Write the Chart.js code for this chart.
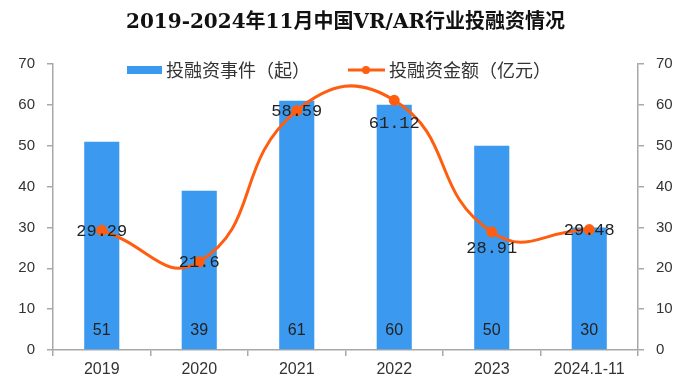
<!DOCTYPE html>
<html>
<head>
<meta charset="utf-8">
<script src="https://cdn.jsdelivr.net/npm/chart.js@4"></script>
<style>
  html, body { margin: 0; padding: 0; background: #fff; }
  #wrap { width: 691px; height: 385px; }
</style>
</head>
<body>
<div id="wrap"><canvas id="chart"></canvas></div>
<script>
/* data */
const years = ['2019', '2020', '2021', '2022', '2023', '2024.1-11'];
const dealCounts = [51, 39, 61, 60, 50, 30];
const dealAmounts = [29.29, 21.6, 58.59, 61.12, 28.91, 29.48];
const axisTicks = [0, 10, 20, 30, 40, 50, 60, 70];
const seriesNames = ['投融资事件（起）', '投融资金额（亿元）'];

const barColor = '#3B99F0';
const lineColor = '#FF5E10';
const axisColor = '#A8A8A8';
// vertical nudge for the amount labels (px)
const amountLabelShift = [0, 0, 0, 22, 16, 0];

const cjk = '"Noto Sans CJK SC", "Liberation Sans", sans-serif';

/* value labels + legend */
const extras = {
    id: 'extras',
    afterDatasetsDraw(chart) {
        const ctx = chart.ctx;
        ctx.save();
        ctx.textAlign = 'center';
        ctx.textBaseline = 'middle';
        // counts, bottom of each bar
        ctx.font = '16px "Liberation Sans", Arial, sans-serif';
        ctx.fillStyle = '#222';
        chart.getDatasetMeta(0).data.forEach((bar, i) => {
            ctx.fillText(String(dealCounts[i]), bar.x, chart.chartArea.bottom - 19);
        });
        // amounts, on the points
        ctx.font = '17px "Liberation Mono", monospace';
        chart.getDatasetMeta(1).data.forEach((pt, i) => {
            ctx.fillText(String(dealAmounts[i]), pt.x, pt.y + amountLabelShift[i] + 1);
        });

        // legend
        ctx.textAlign = 'left';
        ctx.font = '18px ' + cjk;
        ctx.fillStyle = barColor;
        ctx.fillRect(127, 66, 35, 8);
        ctx.fillStyle = '#333';
        ctx.fillText(seriesNames[0], 166, 70);
        ctx.strokeStyle = lineColor;
        ctx.lineWidth = 3;
        ctx.beginPath();
        ctx.moveTo(348, 70);
        ctx.lineTo(385, 70);
        ctx.stroke();
        ctx.fillStyle = lineColor;
        ctx.beginPath();
        ctx.arc(366, 70, 4, 0, Math.PI * 2);
        ctx.fill();
        ctx.fillStyle = '#333';
        ctx.fillText(seriesNames[1], 389, 70);
        ctx.restore();
    }
};

function yAxis(position) {
    return {
        position: position,
        min: 0,
        max: 70,
        afterBuildTicks: (s) => { s.ticks = axisTicks.map(v => ({ value: v })); },
        afterFit: (s) => { s.width = 53; },
        border: { color: axisColor, width: 1.5 },
        grid: { drawOnChartArea: false, tickLength: 6, color: axisColor, lineWidth: 1.5 },
        ticks: { padding: 12, color: '#333', font: { family: '"Liberation Sans", Arial', size: 15 } }
    };
}

new Chart('chart', {
    data: {
        labels: years,
        datasets: [{
            type: 'bar',
            label: seriesNames[0],
            data: dealCounts,
            backgroundColor: barColor,
            yAxisID: 'y',
            order: 1,
            categoryPercentage: 1,
            barPercentage: 0.36
        }, {
            type: 'line',
            label: seriesNames[1],
            data: dealAmounts,
            borderColor: lineColor,
            backgroundColor: lineColor,
            borderWidth: 3,
            pointRadius: 4,
            tension: 0.5,
            yAxisID: 'y1',
            order: 0
        }]
    },
    options: {
        responsive: true,
        maintainAspectRatio: false,
        animation: false,
        layout: { padding: { top: 0, left: 0, right: 0, bottom: 0 } },
        plugins: {
            legend: { display: false },
            tooltip: { enabled: false },
            title: {
                display: true,
                text: '2019-2024年11月中国VR/AR行业投融资情况',
                color: '#111',
                font: { family: '"DejaVu Serif", "Noto Sans CJK SC", serif', size: 20, weight: 'bold', lineHeight: 1.2 },
                padding: { top: 11, bottom: 29 }
            }
        },
        scales: {
            x: {
                afterFit: (s) => { s.height = 35; },
                border: { color: axisColor, width: 1.5 },
                grid: { offset: true, drawOnChartArea: false, tickLength: 6, color: axisColor, lineWidth: 1.5 },
                ticks: { padding: 4, color: '#333', maxRotation: 0, font: { family: '"Liberation Sans", Arial', size: 16 } }
            },
            y: yAxis('left'),
            y1: yAxis('right')
        }
    },
    plugins: [extras]
});
</script>
</body>
</html>
